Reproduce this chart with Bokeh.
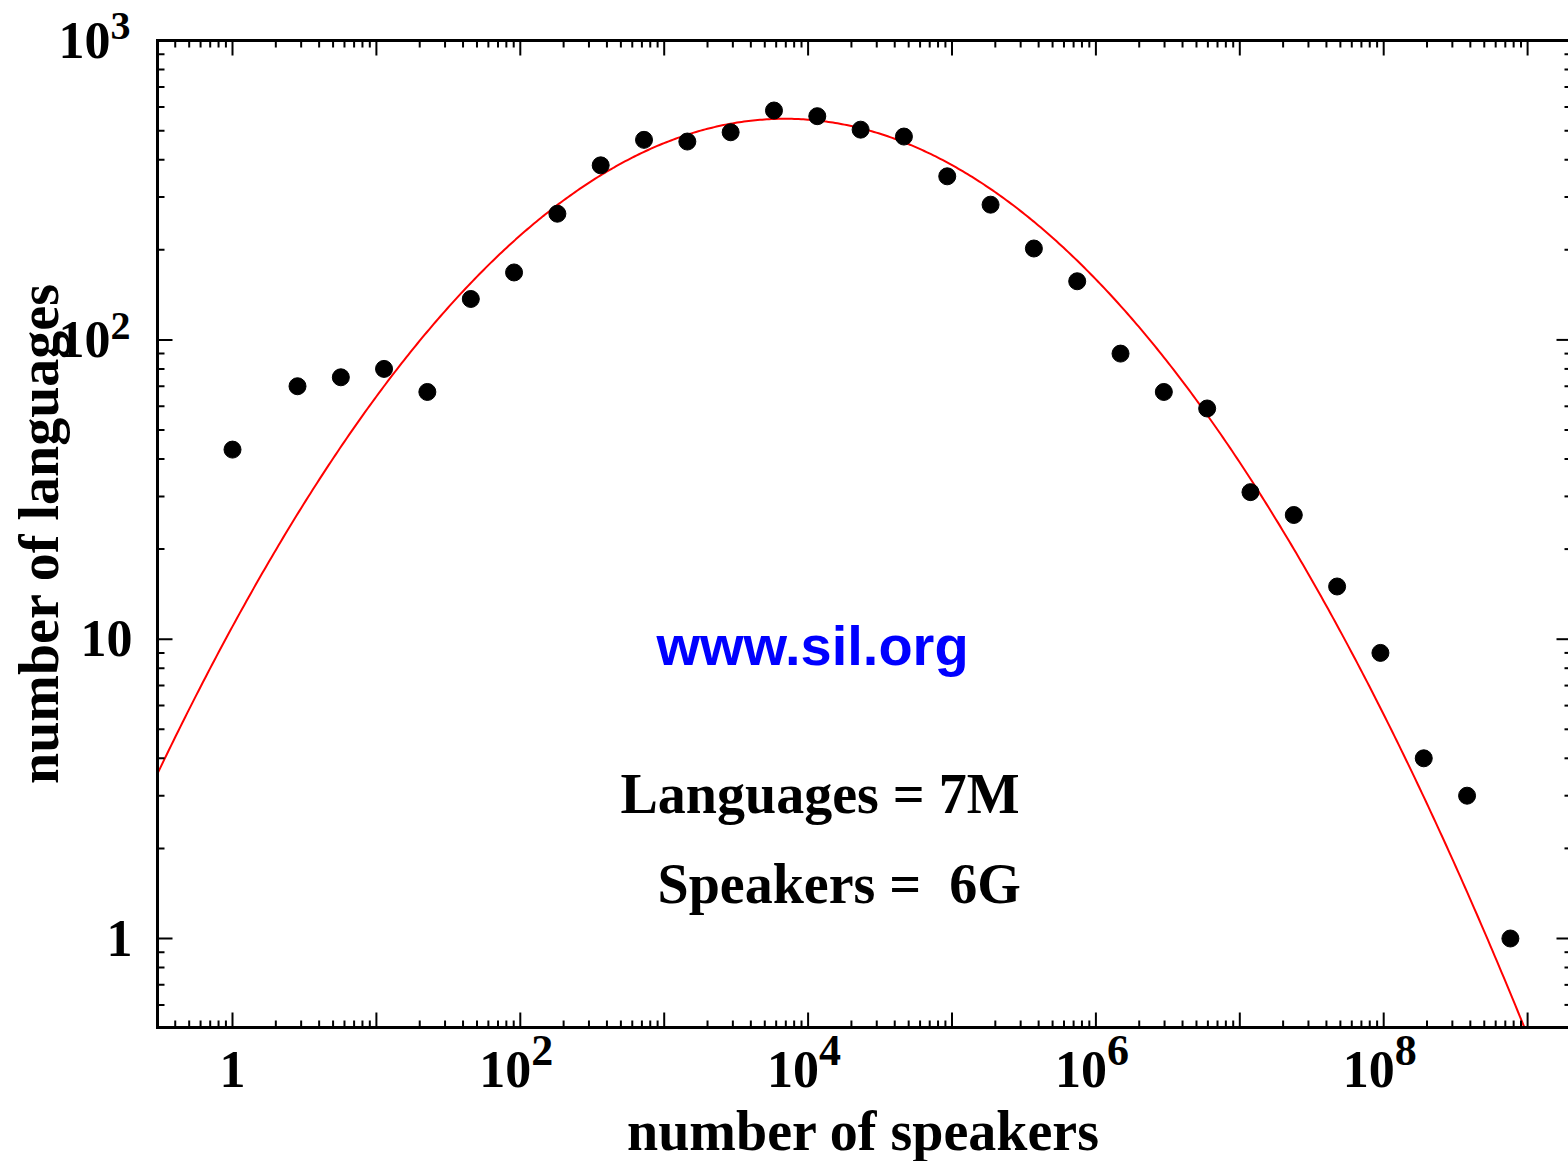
import numpy as np
from bokeh.plotting import figure
from bokeh.models import Range1d, Label
from bokeh.embed import file_html
from bokeh.resources import INLINE

# ---------------- data ----------------
speakers = [1, 2.83, 5.66, 11.3, 22.6, 45.3, 90.5, 181, 362, 724, 1448, 2896,
            5793, 11585, 23170, 46341, 92682, 185364, 370728, 741455,
            1482910, 2965821, 5931642, 11863283, 23726566, 47453133,
            94906266, 189812531, 379625062, 759250125]
languages = [43, 70, 75, 80, 67, 137, 168, 264, 383, 466, 460, 494, 584, 559,
             504, 478, 352, 283, 202, 157, 90, 67, 59, 31, 26, 15, 9, 4, 3, 1]

# log-normal fit (red curve) parameters
fit_peak_speakers = 6920.0
fit_peak_languages = 548.0
fit_sigma_decades = 1.374

x_tick_values = [1, 1e2, 1e4, 1e6, 1e8]
x_tick_base = ["1", "10", "10", "10", "10"]
x_tick_exp = ["", "2", "4", "6", "8"]
y_tick_values = [1, 10, 100, 1000]
y_tick_base = ["1", "10", "10", "10"]
y_tick_exp = ["", "", "2", "3"]

# ---------------- layout (canvas pixels) ----------------
W, H = 1568, 1161
X0, DX = 232.0, 143.9    # px of x=1, px per decade
Y0, DY = 938.0, 299.3    # px of y=1, px per decade
def xd(px): return 10 ** ((px - X0) / DX)
def yd(py): return 10 ** ((Y0 - py) / DY)
def xp(v): return X0 + DX * np.log10(v)
def yp(v): return Y0 - DY * np.log10(v)

B_LEFT, B_RIGHT, B_TOP, B_BOTTOM = 157, 1571, 40, 1027
MAJ, MIN = 15, 7

p = figure(x_axis_type="log", y_axis_type="log",
           x_axis_location=None, y_axis_location=None,
           x_range=Range1d(xd(0), xd(W)), y_range=Range1d(yd(H), yd(0)),
           width=W, height=H, min_border=0,
           output_backend="svg", toolbar_location=None)
p.xgrid.visible = False
p.ygrid.visible = False
p.outline_line_color = None
p.background_fill_color = "white"
p.border_fill_color = "white"

# ---------------- fit curve (restricted to the plot box) ----------------
c = np.log10(fit_peak_speakers)
u_start = np.log10(xd(B_LEFT))
y_floor = yd(B_BOTTOM)
u_end = c + np.sqrt(2 * fit_sigma_decades ** 2 * np.log(fit_peak_languages / y_floor))
u = np.linspace(u_start, u_end, 600)
curve_x = 10 ** u
curve_y = fit_peak_languages * np.exp(-((u - c) ** 2) / (2 * fit_sigma_decades ** 2))
p.line(curve_x, curve_y, line_color="red", line_width=2)

# ---------------- data points ----------------
p.scatter(speakers, languages, size=17, color="black")

# ---------------- axes box and ticks ----------------
x_major = [10.0 ** k for k in range(-1, 11) if B_LEFT <= xp(10.0 ** k) <= B_RIGHT]
x_minor = [m * 10.0 ** k for k in range(-1, 10) for m in range(2, 10)
           if B_LEFT < xp(m * 10.0 ** k) < B_RIGHT]
y_major = [10.0 ** k for k in range(-1, 4) if B_TOP <= yp(10.0 ** k) <= B_BOTTOM]
y_minor = [m * 10.0 ** k for k in range(-1, 3) for m in range(2, 10)
           if B_TOP < yp(m * 10.0 ** k) < B_BOTTOM]

def ticks_x(vals, ln):
    x = list(vals) * 2
    y0 = [yd(B_BOTTOM)] * len(vals) + [yd(B_TOP)] * len(vals)
    y1 = [yd(B_BOTTOM - ln)] * len(vals) + [yd(B_TOP + ln)] * len(vals)
    p.segment(x0=x, x1=x, y0=y0, y1=y1, line_color="black", line_width=2)

def ticks_y(vals, ln):
    y = list(vals) * 2
    x0 = [xd(B_LEFT)] * len(vals) + [xd(B_RIGHT)] * len(vals)
    x1 = [xd(B_LEFT + ln)] * len(vals) + [xd(B_RIGHT - ln)] * len(vals)
    p.segment(x0=x0, x1=x1, y0=y, y1=y, line_color="black", line_width=2)

ticks_x(x_major, MAJ)
ticks_x(x_minor, MIN)
ticks_y(y_major, MAJ)
ticks_y(y_minor, MIN)

# box lines
p.segment(x0=[xd(B_LEFT), xd(B_LEFT - 1.5), xd(B_LEFT - 1.5), xd(B_RIGHT)],
          x1=[xd(B_LEFT), xd(B_RIGHT), xd(B_RIGHT), xd(B_RIGHT)],
          y0=[yd(B_BOTTOM + 1.5), yd(B_BOTTOM), yd(B_TOP), yd(B_BOTTOM)],
          y1=[yd(B_TOP - 1.5), yd(B_BOTTOM), yd(B_TOP), yd(B_TOP)],
          line_color="black", line_width=3)

SERIF = "Liberation Serif"
SANS = "Liberation Sans"
BASE_SHIFT = 0.355   # renderer places the alphabetic baseline this many em lower

def lab(px, py, text, size, align="left", font=SERIF, color="black", rotated=False):
    if rotated:
        px = px - BASE_SHIFT * size
    else:
        py = py - BASE_SHIFT * size
    p.add_layout(Label(x=xd(px), y=yd(py), text=text, text_font=font,
                       text_font_style="bold", text_font_size=f"{size}px",
                       text_align=align, text_baseline="alphabetic",
                       text_color=color, angle=(np.pi / 2 if rotated else 0)))

# x tick labels
for v, b, e in zip(x_tick_values, x_tick_base, x_tick_exp):
    px = xp(v)
    if e:
        lab(px + 11, 1087, b, 52, align="right")
        lab(px + 11, 1066, e, 44, align="left")
    else:
        lab(px, 1087, b, 52, align="center")

# y tick labels
for v, b, e in zip(y_tick_values, y_tick_base, y_tick_exp):
    py = yp(v)
    if e:
        lab(110, py + 18, b, 52, align="right")
        lab(110, py, e, 40, align="left")
    else:
        lab(132, py + 18, b, 52, align="right")

# axis titles
lab(863, 1150, "number of speakers", 56, align="center")
lab(58, 533, "number of languages", 56, align="center", rotated=True)

# annotations
lab(812, 665, "www.sil.org", 56, align="center", font=SANS, color="#0000ff")
lab(620, 813, "Languages = 7M", 56, align="left")
lab(657, 903, "Speakers =\u00a0\u00a06G", 56, align="left")

open("out.html", "w").write(file_html(p, INLINE))
